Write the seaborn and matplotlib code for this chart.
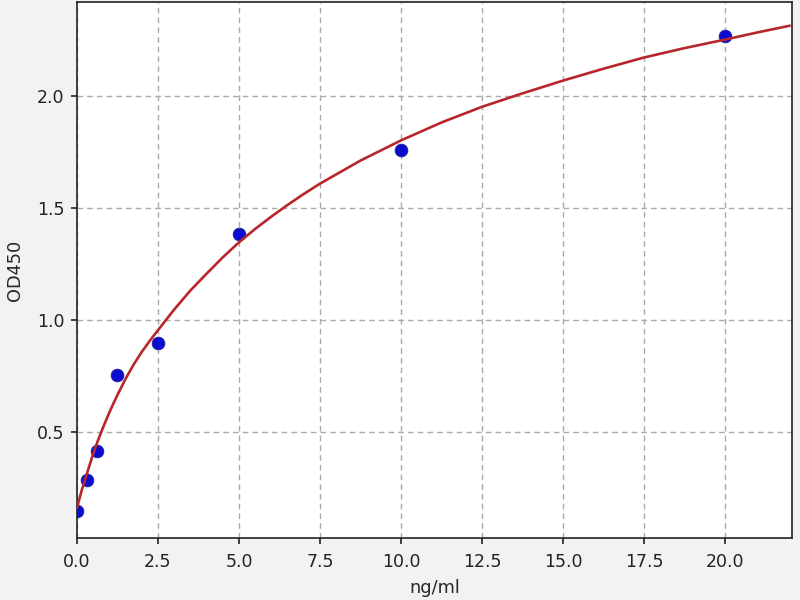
import matplotlib
matplotlib.use("Agg")
import matplotlib.pyplot as plt
import seaborn as sns
import pandas as pd

# Standard points
conc = [0.0, 0.3125, 0.625, 1.25, 2.5, 5.0, 10.0, 20.0]
od = [0.145, 0.283, 0.414, 0.753, 0.896, 1.383, 1.758, 2.266]

# Fitted curve
curve_x = [0.0, 0.15, 0.3125, 0.47, 0.625, 0.78, 0.9375, 1.1, 1.25, 1.5, 1.75,
           2.0, 2.25, 2.5, 3.0, 3.5, 4.0, 4.5, 5.0, 5.5, 6.0, 6.5, 7.0, 7.5,
           8.75, 10.0, 11.25, 12.5, 13.75, 15.0, 16.25, 17.5, 18.75, 20.0, 21.0, 22.0]
curve_y = [0.16, 0.24, 0.315, 0.388, 0.452, 0.51, 0.565, 0.618, 0.664, 0.736, 0.80,
           0.856, 0.906, 0.953, 1.045, 1.13, 1.205, 1.278, 1.345, 1.405, 1.46, 1.512, 1.561, 1.607,
           1.71, 1.80, 1.88, 1.95, 2.01, 2.067, 2.12, 2.17, 2.212, 2.25, 2.282, 2.312]

sns.set_style("white")
plt.rcParams['font.family'] = ['DejaVu Sans']

fig = plt.figure(figsize=(8, 6), dpi=100, facecolor="#f2f2f2")
ax = fig.add_axes([0.09625, 0.1033, 0.89375, 0.8934])
ax.set_facecolor("white")

pts = pd.DataFrame({"x": conc, "y": od})
crv = pd.DataFrame({"x": curve_x, "y": curve_y})

sns.scatterplot(data=pts, x="x", y="y", ax=ax, color="#0a0ad0", s=82,
                edgecolor="#2424a0", linewidth=0.7, zorder=3)
sns.lineplot(data=crv, x="x", y="y", ax=ax, color="#b8262b", linewidth=1.9,
             zorder=4, sort=True)

ax.set_xlim(0, 22.07)
ax.set_ylim(0.025, 2.418)
ax.set_xticks([0, 2.5, 5, 7.5, 10, 12.5, 15, 17.5, 20])
ax.set_yticks([0.5, 1.0, 1.5, 2.0])
ax.grid(True, linestyle=(0, (4, 3)), color="#aaaaaa", linewidth=1.0)
ax.set_axisbelow(True)
for sp in ax.spines.values():
    sp.set_visible(True)
    sp.set_color("#222222")
    sp.set_linewidth(1.2)
ax.tick_params(axis="both", direction="out", length=4.5, width=1.2, colors="#222222",
               labelsize=12.5, bottom=True, left=True, pad=4.5)
ax.tick_params(axis="x", pad=6)
ax.set_xlabel("ng/ml", fontsize=12.8, labelpad=6)
ax.set_ylabel("OD450", fontsize=12.8, labelpad=9)

fig.savefig("out.png", dpi=100, facecolor=fig.get_facecolor())
